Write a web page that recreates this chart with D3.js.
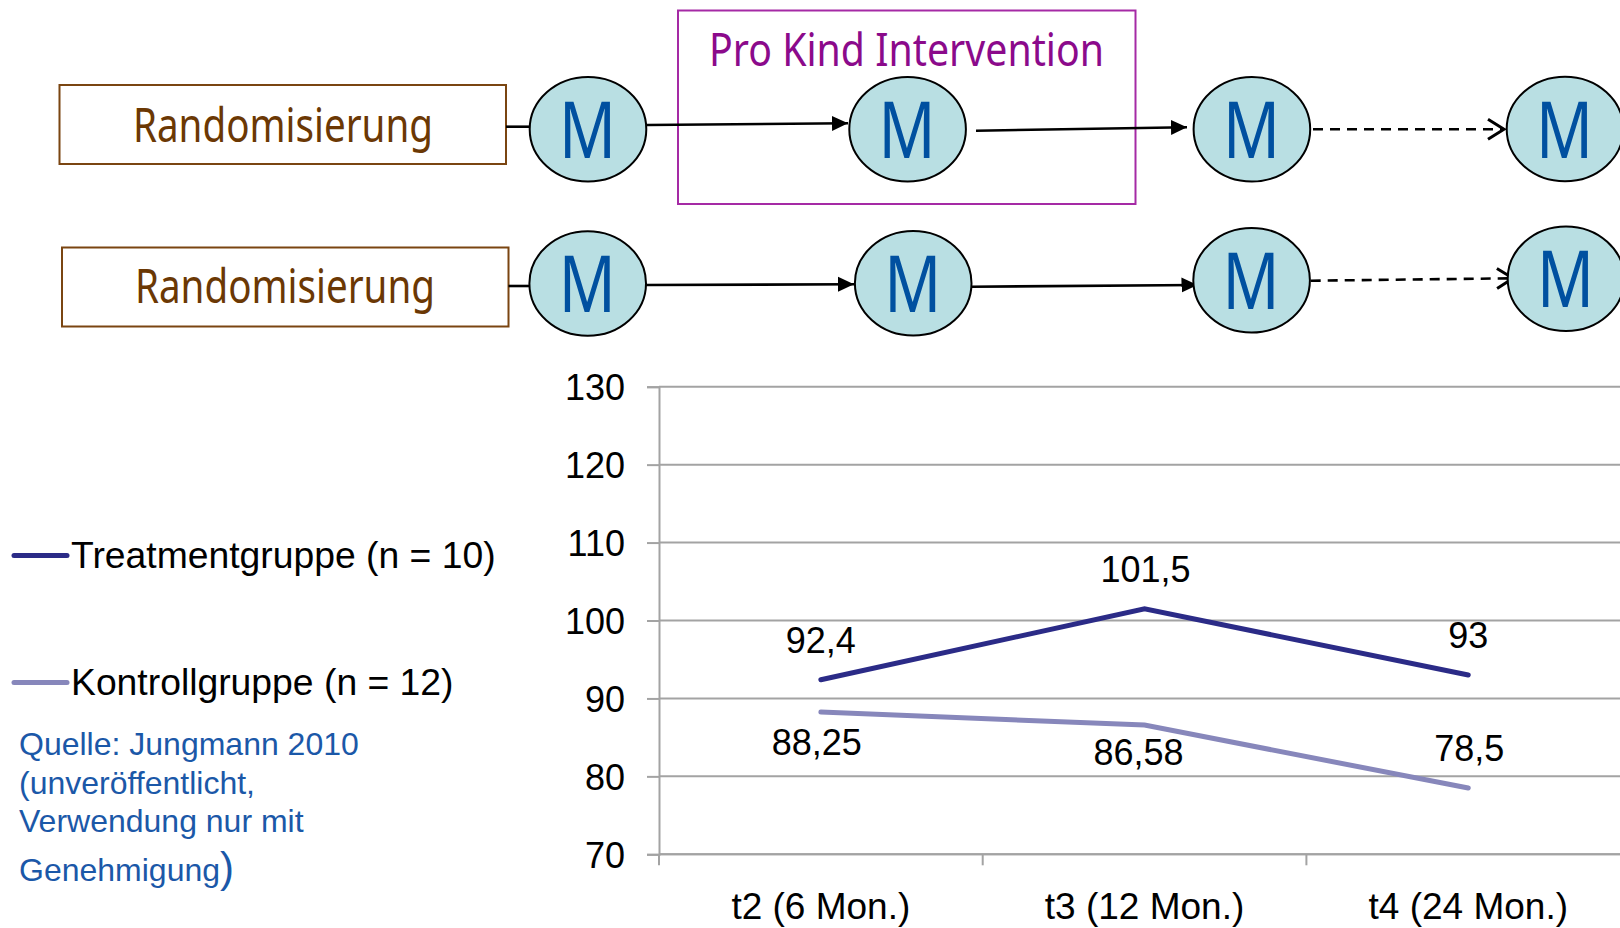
<!DOCTYPE html>
<html>
<head>
<meta charset="utf-8">
<script src="https://cdn.jsdelivr.net/npm/d3@7"></script>
<style>
  html, body { margin: 0; padding: 0; background: #fff; }
  svg { display: block; }
</style>
</head>
<body>
<svg id="chart" width="1620" height="928"></svg>
<script>
// ---------------- data ----------------
const categories = ["t2 (6 Mon.)", "t3 (12 Mon.)", "t4 (24 Mon.)"];
const treatmentValues = [92.4, 101.5, 93];
const controlValues = [88.25, 86.58, 78.5];
const yTicks = [70, 80, 90, 100, 110, 120, 130];
const seriesNames = ["Treatmentgruppe (n = 10)", "Kontrollgruppe (n = 12)"];
const sourceLines = ["Quelle: Jungmann 2010", "(unveröffentlicht,", "Verwendung nur mit", "Genehmigung"];
const diagramLabels = ["Randomisierung", "Pro Kind Intervention", "M"];

// ---------------- setup ----------------
const svg = d3.select("#chart");
const CHART_FONT = "'Liberation Sans', Arial, sans-serif";
const DIAG_FONT = "'Noto Sans', 'Open Sans', sans-serif";
const colTreat = "#2B2B87", colCtrl = "#8787BB", gridCol = "#A3A3A3";

// ---------------- top diagram ----------------
const diag = svg.append("g");
svg.append("defs").html(`
  <marker id="arrFill" viewBox="0 0 16 16" refX="16" refY="8" markerWidth="16" markerHeight="16" markerUnits="userSpaceOnUse" orient="auto">
    <path d="M0,0.5 L16,8 L0,15.5 Z" fill="#000"/>
  </marker>
  <marker id="arrOpen" viewBox="0 0 20 24" refX="18" refY="12" markerWidth="20" markerHeight="24" markerUnits="userSpaceOnUse" orient="auto">
    <path d="M2,2 L18,12 L2,22" fill="none" stroke="#000" stroke-width="3"/>
  </marker>`);

// rows: boxes
const boxes = [
  {x: 59.5, y: 85, w: 446.5, h: 79, bx: 133, by: 141.7, bw: 300},
  {x: 62, y: 247.5, w: 446.5, h: 79, bx: 135, by: 303.3, bw: 300}
];
boxes.forEach(b => {
  diag.append("rect").attr("x", b.x).attr("y", b.y).attr("width", b.w).attr("height", b.h)
    .attr("fill", "#fff").attr("stroke", "#7A4511").attr("stroke-width", 2);
  diag.append("text").attr("x", b.bx).attr("y", b.by)
    .attr("textLength", b.bw).attr("lengthAdjust", "spacingAndGlyphs")
    .attr("font-family", DIAG_FONT).attr("font-size", 47).attr("fill", "#6B3804")
    .text(diagramLabels[0]);
});

// intervention box
diag.append("rect").attr("x", 678).attr("y", 10.5).attr("width", 457.5).attr("height", 193.5)
  .attr("fill", "none").attr("stroke", "#A52AA5").attr("stroke-width", 2);
diag.append("text").attr("x", 709).attr("y", 65.7)
  .attr("textLength", 395).attr("lengthAdjust", "spacingAndGlyphs")
  .attr("font-family", DIAG_FONT).attr("font-size", 45).attr("fill", "#8B0A8B")
  .text(diagramLabels[1]);

// connectors
const lines = [
  {x1: 506, y1: 126.7, x2: 530, y2: 126.7, type: "plain"},
  {x1: 647, y1: 125, x2: 848, y2: 123.3, type: "fill"},
  {x1: 976, y1: 130.7, x2: 1187, y2: 127.3, type: "fill"},
  {x1: 1313, y1: 129.3, x2: 1504, y2: 129.3, type: "dash"},
  {x1: 508.5, y1: 286, x2: 531, y2: 286, type: "plain"},
  {x1: 645, y1: 285, x2: 854, y2: 284.3, type: "fill"},
  {x1: 970.4, y1: 286.7, x2: 1197.5, y2: 285, type: "fill"},
  {x1: 1310.7, y1: 280.7, x2: 1513, y2: 278.3, type: "dash"}
];
lines.forEach(l => {
  const p = diag.append("line").attr("x1", l.x1).attr("y1", l.y1).attr("x2", l.x2).attr("y2", l.y2)
    .attr("stroke", "#000").attr("stroke-width", 2.6);
  if (l.type === "fill") p.attr("marker-end", "url(#arrFill)");
  if (l.type === "dash") p.attr("stroke-dasharray", "10,7").attr("marker-end", "url(#arrOpen)");
});

// circles
const circles = [
  {cx: 588, cy: 129.2}, {cx: 907.6, cy: 129.2}, {cx: 1251.9, cy: 129.2}, {cx: 1565, cy: 129},
  {cx: 587.7, cy: 283.5}, {cx: 913.2, cy: 283.3}, {cx: 1251.6, cy: 280.2}, {cx: 1566, cy: 278.8}
];
circles.forEach(c => {
  diag.append("ellipse").attr("cx", c.cx).attr("cy", c.cy).attr("rx", 58.3).attr("ry", 52.3)
    .attr("fill", "#B9DFE3").attr("stroke", "#000").attr("stroke-width", 2);
  diag.append("text").attr("x", c.cx - 29).attr("y", c.cy + 28.5)
    .attr("textLength", 57).attr("lengthAdjust", "spacingAndGlyphs")
    .attr("font-family", DIAG_FONT).attr("font-size", 79).attr("fill", "#0050A0")
    .text(diagramLabels[2]);
});

// ---------------- chart ----------------
const x = d3.scaleBand().domain(categories).range([659, 1630.1]).paddingInner(0).paddingOuter(0);
const y = d3.scaleLinear().domain([70, 130]).range([854.3, 386.7]);
const g = svg.append("g");

// gridlines
g.append("g").selectAll("line").data(yTicks).join("line")
  .attr("x1", 659).attr("x2", 1620).attr("y1", d => y(d)).attr("y2", d => y(d))
  .attr("stroke", gridCol).attr("stroke-width", 2);

// left axis
const yAxis = g.append("g").attr("transform", "translate(659,0)")
  .call(d3.axisLeft(y).tickValues(yTicks).tickSize(12).tickPadding(22).tickFormat(d3.format("d")));
yAxis.select(".domain").attr("stroke", gridCol).attr("stroke-width", 2);
yAxis.selectAll(".tick line").attr("stroke", gridCol).attr("stroke-width", 2);
yAxis.selectAll(".tick text").attr("font-family", CHART_FONT).attr("font-size", 36)
  .attr("fill", "#000").attr("dy", "0.36em");

// bottom axis (ticks at band boundaries, labels at band centres)
const xAxis = g.append("g").attr("transform", `translate(0,${y(70)})`)
  .call(d3.axisBottom(x).tickSize(0).tickPadding(0));
xAxis.select(".domain").remove();
xAxis.selectAll(".tick text").attr("font-family", CHART_FONT).attr("font-size", 37)
  .attr("fill", "#000").attr("dy", 0).attr("y", 64.5);
g.append("line").attr("x1", 659).attr("x2", 1620).attr("y1", y(70)).attr("y2", y(70))
  .attr("stroke", gridCol).attr("stroke-width", 2);
g.append("g").selectAll("line").data(categories).join("line")
  .attr("x1", d => x(d)).attr("x2", d => x(d)).attr("y1", y(70)).attr("y2", y(70) + 11)
  .attr("stroke", gridCol).attr("stroke-width", 2);

// lines
const lineGen = d3.line().x((d, i) => x(categories[i]) + x.bandwidth() / 2).y(d => y(d));
g.append("path").datum(controlValues).attr("d", lineGen).attr("fill", "none")
  .attr("stroke", colCtrl).attr("stroke-width", 5).attr("stroke-linecap", "round");
g.append("path").datum(treatmentValues).attr("d", lineGen).attr("fill", "none")
  .attr("stroke", colTreat).attr("stroke-width", 5).attr("stroke-linecap", "round");

// data labels
const fmt = v => String(v).replace(".", ",");
const treatOffset = [{dx: 0, dy: -27}, {dx: 1, dy: -27}, {dx: 0, dy: -27}];
const ctrlOffset = [{dx: -4, dy: 43}, {dx: -6, dy: 40}, {dx: 1, dy: -27}];
function labels(vals, offs) {
  g.append("g").selectAll("text").data(vals).join("text")
    .attr("x", (d, i) => x(categories[i]) + x.bandwidth() / 2 + offs[i].dx)
    .attr("y", (d, i) => y(d) + offs[i].dy)
    .attr("text-anchor", "middle").attr("font-family", CHART_FONT).attr("font-size", 36)
    .attr("fill", "#000").text(d => fmt(d));
}
labels(treatmentValues, treatOffset);
labels(controlValues, ctrlOffset);

// legend
const legend = svg.append("g");
[{c: colTreat, ly: 555.5, ty: 568}, {c: colCtrl, ly: 682.5, ty: 695}].forEach((l, i) => {
  legend.append("line").attr("x1", 14).attr("x2", 67).attr("y1", l.ly).attr("y2", l.ly)
    .attr("stroke", l.c).attr("stroke-width", 5).attr("stroke-linecap", "round");
  legend.append("text").attr("x", 71).attr("y", l.ty).attr("font-family", CHART_FONT)
    .attr("font-size", 37.3).attr("fill", "#000").text(seriesNames[i]);
});

// source note
const srcY = [755, 794, 832, 881];
const src = svg.append("g").attr("font-family", CHART_FONT).attr("font-size", 32).attr("fill", "#1B58A8");
sourceLines.forEach((t, i) => {
  const tx = src.append("text").attr("x", 19).attr("y", srcY[i]).text(t);
  if (i === sourceLines.length - 1) tx.append("tspan").attr("font-size", 42).attr("dy", 1).text(")");
});
</script>
</body>
</html>
